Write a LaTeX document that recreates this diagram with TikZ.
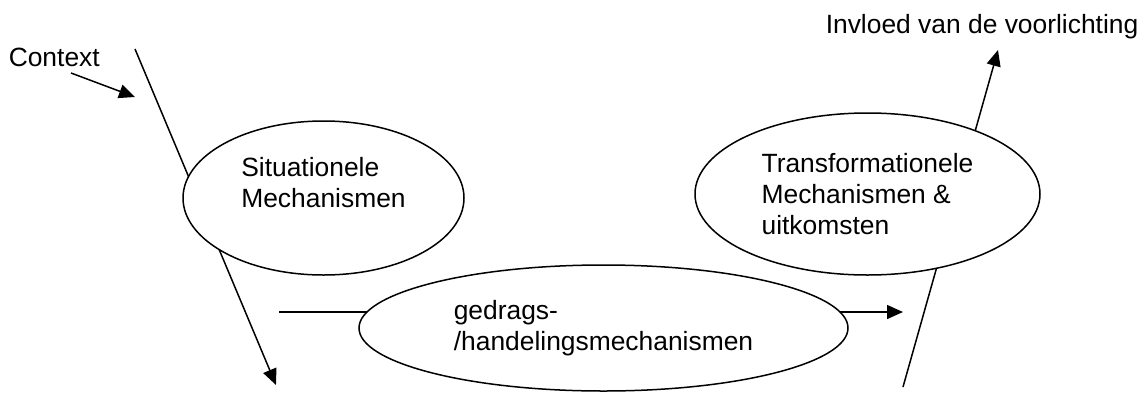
\documentclass[tikz,border=0pt]{standalone}
\usepackage{fontspec}
\setmainfont{Liberation Sans}
\usetikzlibrary{shapes.geometric,arrows.meta}
\begin{document}
\begin{tikzpicture}[x=0.5pt, y=-0.5pt, line width=0.75pt, mech node/.style={shape=ellipse, draw, fill=white, inner sep=0pt, align=left, font=\fontsize{13.2}{15.5}\selectfont}, side node/.style={inner sep=0pt, anchor=base west, font=\fontsize{13.2}{15.5}\selectfont}, flow/.style={-{Triangle[length=8pt, width=7pt]}}]
\useasboundingbox (0,0) rectangle (1142,392);
\node[side node] (C) at (8,66) {Context};
\node[side node] (I) at (825,33) {Invloed van de voorlichting};
\coordinate (CA) at (71,73);
\coordinate (CB) at (135,97);
\coordinate (ST) at (135,49);
\coordinate (SE) at (276,385);
\coordinate (GS) at (279,312);
\coordinate (GE) at (903,312);
\coordinate (TS) at (903,387);
\coordinate (TE) at (998,50);
\draw [flow] (CA) -- (CB);
\draw [flow] (ST) -- (SE);
\draw [flow] (GS) -- (GE);
\draw [flow] (TS) -- (TE);
\node[mech node, minimum width=140.5pt, minimum height=77pt] (S) at (323.5,198) {Situationele\\Mechanismen\\{}};
\node[mech node, minimum width=244.5pt, minimum height=63pt] (G) at (603.5,328) {gedrags-\\/handelingsmechanismen};
\node[mech node, minimum width=172.5pt, minimum height=81pt] (T) at (867.5,194) {Transformationele\\Mechanismen \&\\uitkomsten};
\end{tikzpicture}
\end{document}
